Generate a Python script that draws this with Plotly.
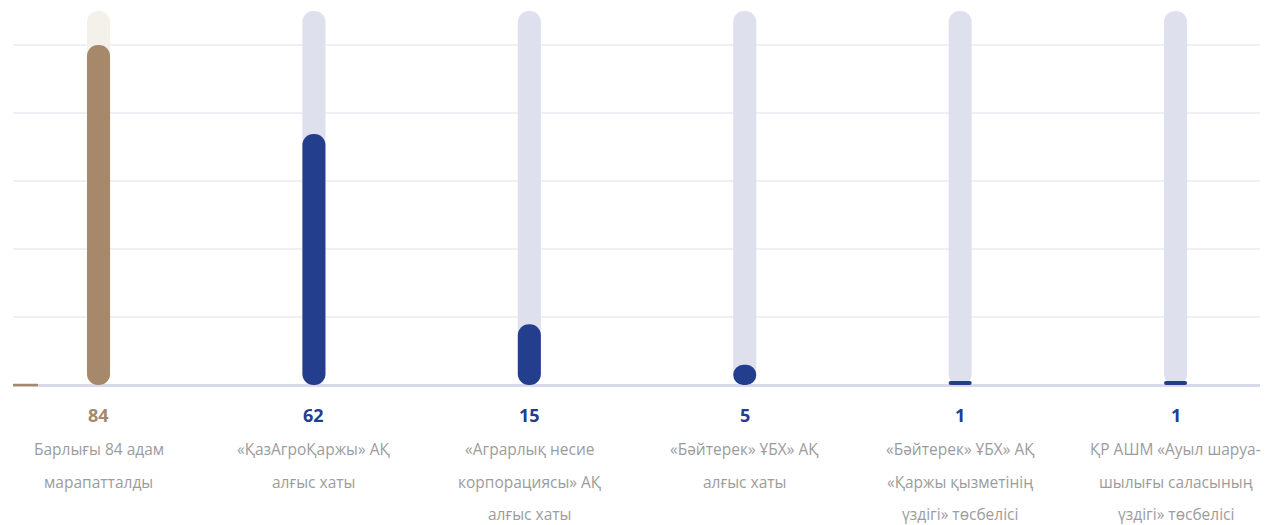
import plotly.graph_objects as go

# ---- data ----
values = [84, 62, 15, 5, 1, 1]
track = [92.4, 92.4, 92.4, 92.4, 92.4, 92.4]
labels = [
    ["Барлығы 84 адам", "марапатталды"],
    ["«ҚазАгроҚаржы» АҚ", "алғыс хаты"],
    ["«Аграрлық несие", "корпорациясы» АҚ", "алғыс хаты"],
    ["«Бәйтерек» ҰБХ» АҚ", "алғыс хаты"],
    ["«Бәйтерек» ҰБХ» АҚ", "«Қаржы қызметінің", "үздігі» төсбелісі"],
    ["ҚР АШМ «Ауыл шаруа-", "шылығы саласының", "үздігі» төсбелісі"],
]
gridvals = [16.8, 33.6, 50.4, 67.2, 84]

# ---- styles ----
bar_colors = ["#a6886a", "#243e8e", "#243e8e", "#243e8e", "#243e8e", "#243e8e"]
track_colors = ["#f4f1ea", "#dfe0ee", "#dfe0ee", "#dfe0ee", "#dfe0ee", "#dfe0ee"]
FONT = "Open Sans"
W, H = 1266, 525
ML, MR, MT, MB = 13, 6, 0, 140
BAR_W = 0.107

x = list(range(len(values)))
zeros = [0 for _ in values]

fig = go.Figure()
for vals, cols in ((track, track_colors), (values, bar_colors)):
    fig.add_trace(go.Bar(x=x, y=vals, base=zeros, width=BAR_W,
                         marker=dict(color=cols, cornerradius="50%", line_width=0),
                         hoverinfo="skip", showlegend=False))

# value labels and category text under the axis
for i, (v, lines) in enumerate(zip(values, labels)):
    fig.add_annotation(x=i, xref="x", y=0, yref="paper", yanchor="middle",
                       yshift=-30, text=f"<b>{v}</b>", showarrow=False,
                       font=dict(family=FONT, size=18, color=bar_colors[i]))
    for j, line in enumerate(lines):
        fig.add_annotation(x=i, xref="x", y=0, yref="paper", yanchor="middle",
                           yshift=-64 - 32.5 * j, text=line, showarrow=False,
                           borderpad=0,
                           font=dict(family=FONT, size=15.5, color="#9c9c9c"))

# small progress marker on the baseline
fig.add_shape(type="line", xref="paper", yref="paper", x0=0, x1=25 / (W - ML - MR),
              y0=0, y1=0, line=dict(color="#a6886a", width=2.5), layer="above")

px_per_unit = 340 / 84
fig.update_layout(
    width=W, height=H,
    margin=dict(l=ML, r=MR, t=MT, b=MB),
    paper_bgcolor="white", plot_bgcolor="white",
    barmode="overlay",
    xaxis=dict(range=[-0.397, 5.392], showgrid=False, zeroline=False,
               showticklabels=False, fixedrange=True),
    yaxis=dict(range=[0, (H - MB - MT) / px_per_unit], tickvals=gridvals,
               showticklabels=False, gridcolor="#efeff7", gridwidth=2,
               zeroline=True, zerolinecolor="#d9d9ec", zerolinewidth=2.5,
               fixedrange=True),
    font=dict(family=FONT),
)

fig.write_html("out.html", config={"displayModeBar": False},
               post_script="document.body.style.margin='0';document.body.style.overflow='hidden';")
